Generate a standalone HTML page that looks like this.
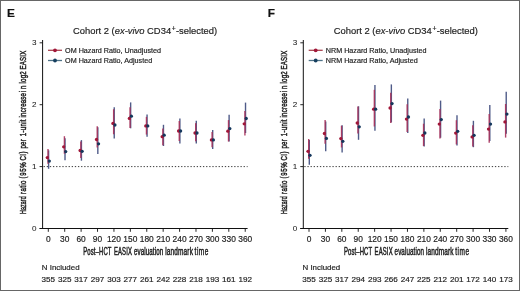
<!DOCTYPE html>
<html><head><meta charset="utf-8"><style>
html,body{margin:0;padding:0;background:#fff;width:520px;height:291px;overflow:hidden;font-family:"Liberation Sans", sans-serif;}
svg{display:block} text{filter:grayscale(1)} .t{fill:#222;stroke:#222;stroke-width:0.18px} .tb{stroke-width:0.4px;vector-effect:non-scaling-stroke} .tl{stroke-width:0.05px}
</style></head><body>
<svg width="520" height="291" viewBox="0 0 520 291" font-family='"Liberation Sans", sans-serif'>
<rect x="0" y="0" width="520" height="291" fill="#fff"/>
<text x="7.00" y="16.5" font-size="11.8" font-weight="bold" fill="#111" stroke="#111" stroke-width="0.2">E</text>
<text x="73.00" y="34.2" font-size="9.7" class="t" textLength="144.2" lengthAdjust="spacingAndGlyphs">Cohort 2 (<tspan font-style="italic">ex-vivo</tspan> CD34<tspan dx="0.6" dy="-3.4" font-size="7.0">+</tspan><tspan dx="0.3" dy="3.4">-selected)</tspan></text>
<path d="M42.60 40.0 V228.5" stroke="#111" stroke-width="1" fill="none"/>
<path d="M39.60 228.5 H247.60" stroke="#111" stroke-width="1" fill="none"/>
<path d="M39.60 228.50 H42.60" stroke="#111" stroke-width="0.9"/>
<text x="36.50" y="230.80" font-size="8.1" class="t tl" text-anchor="end">0</text>
<path d="M39.60 166.60 H42.60" stroke="#111" stroke-width="0.9"/>
<text x="36.50" y="168.90" font-size="8.1" class="t tl" text-anchor="end">1</text>
<path d="M39.60 104.70 H42.60" stroke="#111" stroke-width="0.9"/>
<text x="36.50" y="107.00" font-size="8.1" class="t tl" text-anchor="end">2</text>
<path d="M39.60 42.80 H42.60" stroke="#111" stroke-width="0.9"/>
<text x="36.50" y="45.10" font-size="8.1" class="t tl" text-anchor="end">3</text>
<path d="M48.30 228.5 V231.80" stroke="#111" stroke-width="0.9"/>
<text x="48.30" y="241.8" font-size="8.4" class="t" text-anchor="middle">0</text>
<path d="M64.71 228.5 V231.80" stroke="#111" stroke-width="0.9"/>
<text x="64.71" y="241.8" font-size="8.4" class="t" text-anchor="middle">30</text>
<path d="M81.12 228.5 V231.80" stroke="#111" stroke-width="0.9"/>
<text x="81.12" y="241.8" font-size="8.4" class="t" text-anchor="middle">60</text>
<path d="M97.53 228.5 V231.80" stroke="#111" stroke-width="0.9"/>
<text x="97.53" y="241.8" font-size="8.4" class="t" text-anchor="middle">90</text>
<path d="M113.94 228.5 V231.80" stroke="#111" stroke-width="0.9"/>
<text x="113.94" y="241.8" font-size="8.4" class="t" text-anchor="middle">120</text>
<path d="M130.35 228.5 V231.80" stroke="#111" stroke-width="0.9"/>
<text x="130.35" y="241.8" font-size="8.4" class="t" text-anchor="middle">150</text>
<path d="M146.76 228.5 V231.80" stroke="#111" stroke-width="0.9"/>
<text x="146.76" y="241.8" font-size="8.4" class="t" text-anchor="middle">180</text>
<path d="M163.17 228.5 V231.80" stroke="#111" stroke-width="0.9"/>
<text x="163.17" y="241.8" font-size="8.4" class="t" text-anchor="middle">210</text>
<path d="M179.58 228.5 V231.80" stroke="#111" stroke-width="0.9"/>
<text x="179.58" y="241.8" font-size="8.4" class="t" text-anchor="middle">240</text>
<path d="M195.99 228.5 V231.80" stroke="#111" stroke-width="0.9"/>
<text x="195.99" y="241.8" font-size="8.4" class="t" text-anchor="middle">270</text>
<path d="M212.40 228.5 V231.80" stroke="#111" stroke-width="0.9"/>
<text x="212.40" y="241.8" font-size="8.4" class="t" text-anchor="middle">300</text>
<path d="M228.81 228.5 V231.80" stroke="#111" stroke-width="0.9"/>
<text x="228.81" y="241.8" font-size="8.4" class="t" text-anchor="middle">330</text>
<path d="M245.22 228.5 V231.80" stroke="#111" stroke-width="0.9"/>
<text x="245.22" y="241.8" font-size="8.4" class="t" text-anchor="middle">360</text>
<path d="M43.60 166.60 H247.60" stroke="#222" stroke-width="0.9" stroke-dasharray="1.3 1.825"/>
<text transform="translate(83.30 254.7) scale(0.563 1)" font-size="10.5" class="t tb" textLength="49.93" lengthAdjust="spacing">Post–HCT</text>
<text transform="translate(113.90 254.7) scale(0.564 1)" font-size="10.5" class="t tb" textLength="31.89" lengthAdjust="spacing">EASIX</text>
<text transform="translate(133.90 254.7) scale(0.594 1)" font-size="10.5" class="t tb" textLength="49.35" lengthAdjust="spacing">evaluation</text>
<text transform="translate(165.20 254.7) scale(0.620 1)" font-size="10.5" class="t tb" textLength="44.68" lengthAdjust="spacing">landmark</text>
<text transform="translate(194.60 254.7) scale(0.620 1)" font-size="10.5" class="t tb" textLength="22.26" lengthAdjust="spacing">time</text>
<text transform="translate(26.20 214.00) rotate(-90) scale(0.555 1)" font-size="9.6" class="t tb" textLength="31.90" lengthAdjust="spacing">Hazard</text>
<text transform="translate(26.20 193.90) rotate(-90) scale(0.640 1)" font-size="9.6" class="t tb" textLength="20.78" lengthAdjust="spacing">ratio</text>
<text transform="translate(26.20 178.60) rotate(-90) scale(0.640 1)" font-size="9.6" class="t tb" textLength="25.62" lengthAdjust="spacing">(95%</text>
<text transform="translate(26.20 160.50) rotate(-90) scale(0.640 1)" font-size="9.6" class="t tb" textLength="14.06" lengthAdjust="spacing">CI)</text>
<text transform="translate(26.20 148.60) rotate(-90) scale(0.640 1)" font-size="9.6" class="t tb" textLength="14.69" lengthAdjust="spacing">per</text>
<text transform="translate(26.20 136.20) rotate(-90) scale(0.640 1)" font-size="9.6" class="t tb" textLength="26.09" lengthAdjust="spacing">1-unit</text>
<text transform="translate(26.20 117.50) rotate(-90) scale(0.640 1)" font-size="9.6" class="t tb" textLength="38.28" lengthAdjust="spacing">increase</text>
<text transform="translate(26.20 92.00) rotate(-90) scale(0.640 1)" font-size="9.6" class="t tb" textLength="10.16" lengthAdjust="spacing">in</text>
<text transform="translate(26.20 83.50) rotate(-90) scale(0.640 1)" font-size="9.6" class="t tb" textLength="19.06" lengthAdjust="spacing">log2</text>
<text transform="translate(26.20 69.50) rotate(-90) scale(0.640 1)" font-size="9.6" class="t tb" textLength="29.38" lengthAdjust="spacing">EASIX</text>
<path d="M48.00 50.3 H62.00" stroke="#a8434f" stroke-width="1.3"/>
<circle cx="55.00" cy="50.3" r="1.9" fill="#a01638"/>
<path d="M48.00 60.5 H62.00" stroke="#4f7388" stroke-width="1.3"/>
<circle cx="55.00" cy="60.5" r="1.9" fill="#153e5e"/>
<text x="65.10" y="52.8" font-size="7.2" class="t">OM Hazard Ratio, Unadjusted</text>
<text x="65.10" y="63.0" font-size="7.2" class="t">OM Hazard Ratio, Adjusted</text>
<path d="M48.60 150.35 V168.80" stroke="#3d4a7c" stroke-width="1.4" opacity="0.9"/>
<path d="M48.00 149.00 V163.76" stroke="#a8305a" stroke-width="1.4" opacity="0.9"/>
<circle cx="47.30" cy="157.60" r="1.65" fill="#a01638"/>
<circle cx="49.30" cy="161.10" r="1.65" fill="#15375c"/>
<path d="M65.01 138.35 V160.20" stroke="#3d4a7c" stroke-width="1.4" opacity="0.9"/>
<path d="M64.41 136.20 V153.68" stroke="#a8305a" stroke-width="1.4" opacity="0.9"/>
<circle cx="63.71" cy="146.80" r="1.65" fill="#a01638"/>
<circle cx="65.71" cy="151.60" r="1.65" fill="#15375c"/>
<path d="M81.42 140.10 V160.70" stroke="#3d4a7c" stroke-width="1.4" opacity="0.9"/>
<path d="M80.82 141.54 V158.02" stroke="#a8305a" stroke-width="1.4" opacity="0.9"/>
<circle cx="80.12" cy="150.50" r="1.65" fill="#a01638"/>
<circle cx="82.12" cy="151.30" r="1.65" fill="#15375c"/>
<path d="M97.83 127.30 V153.90" stroke="#3d4a7c" stroke-width="1.4" opacity="0.9"/>
<path d="M97.23 126.30 V147.58" stroke="#a8305a" stroke-width="1.4" opacity="0.9"/>
<circle cx="96.53" cy="139.50" r="1.65" fill="#a01638"/>
<circle cx="98.53" cy="143.80" r="1.65" fill="#15375c"/>
<path d="M114.24 107.30 V138.60" stroke="#3d4a7c" stroke-width="1.4" opacity="0.9"/>
<path d="M113.64 109.24 V134.28" stroke="#a8305a" stroke-width="1.4" opacity="0.9"/>
<circle cx="112.94" cy="123.40" r="1.65" fill="#a01638"/>
<circle cx="114.94" cy="125.00" r="1.65" fill="#15375c"/>
<path d="M130.65 102.40 V128.30" stroke="#3d4a7c" stroke-width="1.4" opacity="0.9"/>
<path d="M130.05 107.36 V128.08" stroke="#a8305a" stroke-width="1.4" opacity="0.9"/>
<circle cx="129.35" cy="118.40" r="1.65" fill="#a01638"/>
<circle cx="131.35" cy="116.20" r="1.65" fill="#15375c"/>
<path d="M147.06 114.60 V136.70" stroke="#3d4a7c" stroke-width="1.4" opacity="0.9"/>
<path d="M146.46 116.86 V134.54" stroke="#a8305a" stroke-width="1.4" opacity="0.9"/>
<circle cx="145.76" cy="125.90" r="1.65" fill="#a01638"/>
<circle cx="147.76" cy="125.90" r="1.65" fill="#15375c"/>
<path d="M163.47 124.80 V146.00" stroke="#3d4a7c" stroke-width="1.4" opacity="0.9"/>
<path d="M162.87 128.38 V145.34" stroke="#a8305a" stroke-width="1.4" opacity="0.9"/>
<circle cx="162.17" cy="136.70" r="1.65" fill="#a01638"/>
<circle cx="164.17" cy="135.20" r="1.65" fill="#15375c"/>
<path d="M179.88 118.60 V143.40" stroke="#3d4a7c" stroke-width="1.4" opacity="0.9"/>
<path d="M179.28 121.08 V140.92" stroke="#a8305a" stroke-width="1.4" opacity="0.9"/>
<circle cx="178.58" cy="131.00" r="1.65" fill="#a01638"/>
<circle cx="180.58" cy="131.00" r="1.65" fill="#15375c"/>
<path d="M196.29 120.70 V143.40" stroke="#3d4a7c" stroke-width="1.4" opacity="0.9"/>
<path d="M195.69 123.16 V141.32" stroke="#a8305a" stroke-width="1.4" opacity="0.9"/>
<circle cx="194.99" cy="133.00" r="1.65" fill="#a01638"/>
<circle cx="196.99" cy="133.00" r="1.65" fill="#15375c"/>
<path d="M212.70 130.00 V149.00" stroke="#3d4a7c" stroke-width="1.4" opacity="0.9"/>
<path d="M212.10 131.98 V147.18" stroke="#a8305a" stroke-width="1.4" opacity="0.9"/>
<circle cx="211.40" cy="139.90" r="1.65" fill="#a01638"/>
<circle cx="213.40" cy="139.90" r="1.65" fill="#15375c"/>
<path d="M229.11 114.70 V141.47" stroke="#3d4a7c" stroke-width="1.4" opacity="0.9"/>
<path d="M228.51 120.08 V141.50" stroke="#a8305a" stroke-width="1.4" opacity="0.9"/>
<circle cx="227.81" cy="131.20" r="1.65" fill="#a01638"/>
<circle cx="229.81" cy="128.60" r="1.65" fill="#15375c"/>
<path d="M245.52 102.60 V133.00" stroke="#3d4a7c" stroke-width="1.4" opacity="0.9"/>
<path d="M244.92 111.08 V135.40" stroke="#a8305a" stroke-width="1.4" opacity="0.9"/>
<circle cx="244.22" cy="123.80" r="1.65" fill="#a01638"/>
<circle cx="246.22" cy="118.50" r="1.65" fill="#15375c"/>
<text x="41.80" y="270.2" font-size="7.9" class="t">N Included</text>
<text x="48.30" y="282.4" font-size="8.1" class="t" text-anchor="middle">355</text>
<text x="64.71" y="282.4" font-size="8.1" class="t" text-anchor="middle">325</text>
<text x="81.12" y="282.4" font-size="8.1" class="t" text-anchor="middle">317</text>
<text x="97.53" y="282.4" font-size="8.1" class="t" text-anchor="middle">297</text>
<text x="113.94" y="282.4" font-size="8.1" class="t" text-anchor="middle">303</text>
<text x="130.35" y="282.4" font-size="8.1" class="t" text-anchor="middle">277</text>
<text x="146.76" y="282.4" font-size="8.1" class="t" text-anchor="middle">261</text>
<text x="163.17" y="282.4" font-size="8.1" class="t" text-anchor="middle">242</text>
<text x="179.58" y="282.4" font-size="8.1" class="t" text-anchor="middle">228</text>
<text x="195.99" y="282.4" font-size="8.1" class="t" text-anchor="middle">218</text>
<text x="212.40" y="282.4" font-size="8.1" class="t" text-anchor="middle">193</text>
<text x="228.81" y="282.4" font-size="8.1" class="t" text-anchor="middle">161</text>
<text x="245.22" y="282.4" font-size="8.1" class="t" text-anchor="middle">192</text>
<text x="267.70" y="16.5" font-size="11.8" font-weight="bold" fill="#111" stroke="#111" stroke-width="0.2">F</text>
<text x="333.70" y="34.2" font-size="9.7" class="t" textLength="144.2" lengthAdjust="spacingAndGlyphs">Cohort 2 (<tspan font-style="italic">ex-vivo</tspan> CD34<tspan dx="0.6" dy="-3.4" font-size="7.0">+</tspan><tspan dx="0.3" dy="3.4">-selected)</tspan></text>
<path d="M303.30 40.0 V228.5" stroke="#111" stroke-width="1" fill="none"/>
<path d="M300.30 228.5 H508.30" stroke="#111" stroke-width="1" fill="none"/>
<path d="M300.30 228.50 H303.30" stroke="#111" stroke-width="0.9"/>
<text x="297.20" y="230.80" font-size="8.1" class="t tl" text-anchor="end">0</text>
<path d="M300.30 166.60 H303.30" stroke="#111" stroke-width="0.9"/>
<text x="297.20" y="168.90" font-size="8.1" class="t tl" text-anchor="end">1</text>
<path d="M300.30 104.70 H303.30" stroke="#111" stroke-width="0.9"/>
<text x="297.20" y="107.00" font-size="8.1" class="t tl" text-anchor="end">2</text>
<path d="M300.30 42.80 H303.30" stroke="#111" stroke-width="0.9"/>
<text x="297.20" y="45.10" font-size="8.1" class="t tl" text-anchor="end">3</text>
<path d="M309.00 228.5 V231.80" stroke="#111" stroke-width="0.9"/>
<text x="309.00" y="241.8" font-size="8.4" class="t" text-anchor="middle">0</text>
<path d="M325.41 228.5 V231.80" stroke="#111" stroke-width="0.9"/>
<text x="325.41" y="241.8" font-size="8.4" class="t" text-anchor="middle">30</text>
<path d="M341.82 228.5 V231.80" stroke="#111" stroke-width="0.9"/>
<text x="341.82" y="241.8" font-size="8.4" class="t" text-anchor="middle">60</text>
<path d="M358.23 228.5 V231.80" stroke="#111" stroke-width="0.9"/>
<text x="358.23" y="241.8" font-size="8.4" class="t" text-anchor="middle">90</text>
<path d="M374.64 228.5 V231.80" stroke="#111" stroke-width="0.9"/>
<text x="374.64" y="241.8" font-size="8.4" class="t" text-anchor="middle">120</text>
<path d="M391.05 228.5 V231.80" stroke="#111" stroke-width="0.9"/>
<text x="391.05" y="241.8" font-size="8.4" class="t" text-anchor="middle">150</text>
<path d="M407.46 228.5 V231.80" stroke="#111" stroke-width="0.9"/>
<text x="407.46" y="241.8" font-size="8.4" class="t" text-anchor="middle">180</text>
<path d="M423.87 228.5 V231.80" stroke="#111" stroke-width="0.9"/>
<text x="423.87" y="241.8" font-size="8.4" class="t" text-anchor="middle">210</text>
<path d="M440.28 228.5 V231.80" stroke="#111" stroke-width="0.9"/>
<text x="440.28" y="241.8" font-size="8.4" class="t" text-anchor="middle">240</text>
<path d="M456.69 228.5 V231.80" stroke="#111" stroke-width="0.9"/>
<text x="456.69" y="241.8" font-size="8.4" class="t" text-anchor="middle">270</text>
<path d="M473.10 228.5 V231.80" stroke="#111" stroke-width="0.9"/>
<text x="473.10" y="241.8" font-size="8.4" class="t" text-anchor="middle">300</text>
<path d="M489.51 228.5 V231.80" stroke="#111" stroke-width="0.9"/>
<text x="489.51" y="241.8" font-size="8.4" class="t" text-anchor="middle">330</text>
<path d="M505.92 228.5 V231.80" stroke="#111" stroke-width="0.9"/>
<text x="505.92" y="241.8" font-size="8.4" class="t" text-anchor="middle">360</text>
<path d="M304.30 166.60 H508.30" stroke="#222" stroke-width="0.9" stroke-dasharray="1.3 1.825"/>
<text transform="translate(344.00 254.7) scale(0.563 1)" font-size="10.5" class="t tb" textLength="49.93" lengthAdjust="spacing">Post–HCT</text>
<text transform="translate(374.60 254.7) scale(0.564 1)" font-size="10.5" class="t tb" textLength="31.89" lengthAdjust="spacing">EASIX</text>
<text transform="translate(394.60 254.7) scale(0.594 1)" font-size="10.5" class="t tb" textLength="49.35" lengthAdjust="spacing">evaluation</text>
<text transform="translate(425.90 254.7) scale(0.620 1)" font-size="10.5" class="t tb" textLength="44.68" lengthAdjust="spacing">landmark</text>
<text transform="translate(455.30 254.7) scale(0.620 1)" font-size="10.5" class="t tb" textLength="22.26" lengthAdjust="spacing">time</text>
<text transform="translate(286.90 214.00) rotate(-90) scale(0.555 1)" font-size="9.6" class="t tb" textLength="31.90" lengthAdjust="spacing">Hazard</text>
<text transform="translate(286.90 193.90) rotate(-90) scale(0.640 1)" font-size="9.6" class="t tb" textLength="20.78" lengthAdjust="spacing">ratio</text>
<text transform="translate(286.90 178.60) rotate(-90) scale(0.640 1)" font-size="9.6" class="t tb" textLength="25.62" lengthAdjust="spacing">(95%</text>
<text transform="translate(286.90 160.50) rotate(-90) scale(0.640 1)" font-size="9.6" class="t tb" textLength="14.06" lengthAdjust="spacing">CI)</text>
<text transform="translate(286.90 148.60) rotate(-90) scale(0.640 1)" font-size="9.6" class="t tb" textLength="14.69" lengthAdjust="spacing">per</text>
<text transform="translate(286.90 136.20) rotate(-90) scale(0.640 1)" font-size="9.6" class="t tb" textLength="26.09" lengthAdjust="spacing">1-unit</text>
<text transform="translate(286.90 117.50) rotate(-90) scale(0.640 1)" font-size="9.6" class="t tb" textLength="38.28" lengthAdjust="spacing">increase</text>
<text transform="translate(286.90 92.00) rotate(-90) scale(0.640 1)" font-size="9.6" class="t tb" textLength="10.16" lengthAdjust="spacing">in</text>
<text transform="translate(286.90 83.50) rotate(-90) scale(0.640 1)" font-size="9.6" class="t tb" textLength="19.06" lengthAdjust="spacing">log2</text>
<text transform="translate(286.90 69.50) rotate(-90) scale(0.640 1)" font-size="9.6" class="t tb" textLength="29.38" lengthAdjust="spacing">EASIX</text>
<path d="M308.70 50.3 H322.70" stroke="#a8434f" stroke-width="1.3"/>
<circle cx="315.70" cy="50.3" r="1.9" fill="#a01638"/>
<path d="M308.70 60.5 H322.70" stroke="#4f7388" stroke-width="1.3"/>
<circle cx="315.70" cy="60.5" r="1.9" fill="#153e5e"/>
<text x="325.80" y="52.8" font-size="7.2" class="t">NRM Hazard Ratio, Unadjusted</text>
<text x="325.80" y="63.0" font-size="7.2" class="t">NRM Hazard Ratio, Adjusted</text>
<path d="M309.30 139.93 V164.70" stroke="#3d4a7c" stroke-width="1.4" opacity="0.9"/>
<path d="M308.70 139.00 V158.82" stroke="#a8305a" stroke-width="1.4" opacity="0.9"/>
<circle cx="308.00" cy="151.30" r="1.65" fill="#a01638"/>
<circle cx="310.00" cy="155.30" r="1.65" fill="#15375c"/>
<path d="M325.71 121.53 V151.30" stroke="#3d4a7c" stroke-width="1.4" opacity="0.9"/>
<path d="M325.11 120.00 V143.82" stroke="#a8305a" stroke-width="1.4" opacity="0.9"/>
<circle cx="324.41" cy="133.50" r="1.65" fill="#a01638"/>
<circle cx="326.41" cy="138.40" r="1.65" fill="#15375c"/>
<path d="M342.12 125.20 V152.40" stroke="#3d4a7c" stroke-width="1.4" opacity="0.9"/>
<path d="M341.52 125.72 V147.48" stroke="#a8305a" stroke-width="1.4" opacity="0.9"/>
<circle cx="340.82" cy="138.60" r="1.65" fill="#a01638"/>
<circle cx="342.82" cy="141.30" r="1.65" fill="#15375c"/>
<path d="M358.53 106.30 V139.80" stroke="#3d4a7c" stroke-width="1.4" opacity="0.9"/>
<path d="M357.93 106.60 V133.40" stroke="#a8305a" stroke-width="1.4" opacity="0.9"/>
<circle cx="357.23" cy="123.00" r="1.65" fill="#a01638"/>
<circle cx="359.23" cy="126.80" r="1.65" fill="#15375c"/>
<path d="M374.94 85.00 V130.80" stroke="#3d4a7c" stroke-width="1.4" opacity="0.9"/>
<path d="M374.34 89.84 V126.48" stroke="#a8305a" stroke-width="1.4" opacity="0.9"/>
<circle cx="373.64" cy="109.20" r="1.65" fill="#a01638"/>
<circle cx="375.64" cy="109.20" r="1.65" fill="#15375c"/>
<path d="M391.35 84.40 V122.35" stroke="#3d4a7c" stroke-width="1.4" opacity="0.9"/>
<path d="M390.75 92.64 V123.00" stroke="#a8305a" stroke-width="1.4" opacity="0.9"/>
<circle cx="390.05" cy="108.00" r="1.65" fill="#a01638"/>
<circle cx="392.05" cy="103.60" r="1.65" fill="#15375c"/>
<path d="M407.76 98.40 V133.00" stroke="#3d4a7c" stroke-width="1.4" opacity="0.9"/>
<path d="M407.16 104.22 V131.90" stroke="#a8305a" stroke-width="1.4" opacity="0.9"/>
<circle cx="406.46" cy="119.10" r="1.65" fill="#a01638"/>
<circle cx="408.46" cy="117.00" r="1.65" fill="#15375c"/>
<path d="M424.17 118.50 V146.40" stroke="#3d4a7c" stroke-width="1.4" opacity="0.9"/>
<path d="M423.57 123.70 V146.02" stroke="#a8305a" stroke-width="1.4" opacity="0.9"/>
<circle cx="422.87" cy="135.30" r="1.65" fill="#a01638"/>
<circle cx="424.87" cy="133.00" r="1.65" fill="#15375c"/>
<path d="M440.58 100.60 V137.72" stroke="#3d4a7c" stroke-width="1.4" opacity="0.9"/>
<path d="M439.98 108.90 V138.60" stroke="#a8305a" stroke-width="1.4" opacity="0.9"/>
<circle cx="439.28" cy="124.10" r="1.65" fill="#a01638"/>
<circle cx="441.28" cy="119.60" r="1.65" fill="#15375c"/>
<path d="M456.99 115.20 V145.40" stroke="#3d4a7c" stroke-width="1.4" opacity="0.9"/>
<path d="M456.39 120.22 V144.38" stroke="#a8305a" stroke-width="1.4" opacity="0.9"/>
<circle cx="455.69" cy="133.10" r="1.65" fill="#a01638"/>
<circle cx="457.69" cy="131.30" r="1.65" fill="#15375c"/>
<path d="M473.40 120.80 V147.20" stroke="#3d4a7c" stroke-width="1.4" opacity="0.9"/>
<path d="M472.80 125.30 V146.42" stroke="#a8305a" stroke-width="1.4" opacity="0.9"/>
<circle cx="472.10" cy="136.90" r="1.65" fill="#a01638"/>
<circle cx="474.10" cy="135.30" r="1.65" fill="#15375c"/>
<path d="M489.81 105.10 V141.10" stroke="#3d4a7c" stroke-width="1.4" opacity="0.9"/>
<path d="M489.21 113.90 V142.70" stroke="#a8305a" stroke-width="1.4" opacity="0.9"/>
<circle cx="488.51" cy="129.10" r="1.65" fill="#a01638"/>
<circle cx="490.51" cy="124.10" r="1.65" fill="#15375c"/>
<path d="M506.22 91.70 V133.72" stroke="#3d4a7c" stroke-width="1.4" opacity="0.9"/>
<path d="M505.62 103.98 V137.60" stroke="#a8305a" stroke-width="1.4" opacity="0.9"/>
<circle cx="504.92" cy="121.90" r="1.65" fill="#a01638"/>
<circle cx="506.92" cy="114.10" r="1.65" fill="#15375c"/>
<text x="302.50" y="270.2" font-size="7.9" class="t">N Included</text>
<text x="309.00" y="282.4" font-size="8.1" class="t" text-anchor="middle">355</text>
<text x="325.41" y="282.4" font-size="8.1" class="t" text-anchor="middle">325</text>
<text x="341.82" y="282.4" font-size="8.1" class="t" text-anchor="middle">317</text>
<text x="358.23" y="282.4" font-size="8.1" class="t" text-anchor="middle">294</text>
<text x="374.64" y="282.4" font-size="8.1" class="t" text-anchor="middle">293</text>
<text x="391.05" y="282.4" font-size="8.1" class="t" text-anchor="middle">266</text>
<text x="407.46" y="282.4" font-size="8.1" class="t" text-anchor="middle">247</text>
<text x="423.87" y="282.4" font-size="8.1" class="t" text-anchor="middle">225</text>
<text x="440.28" y="282.4" font-size="8.1" class="t" text-anchor="middle">212</text>
<text x="456.69" y="282.4" font-size="8.1" class="t" text-anchor="middle">201</text>
<text x="473.10" y="282.4" font-size="8.1" class="t" text-anchor="middle">172</text>
<text x="489.51" y="282.4" font-size="8.1" class="t" text-anchor="middle">140</text>
<text x="505.92" y="282.4" font-size="8.1" class="t" text-anchor="middle">173</text>
<rect x="0.5" y="0.5" width="519" height="290" fill="none" stroke="#666" stroke-width="1"/>
</svg>
</body></html>
